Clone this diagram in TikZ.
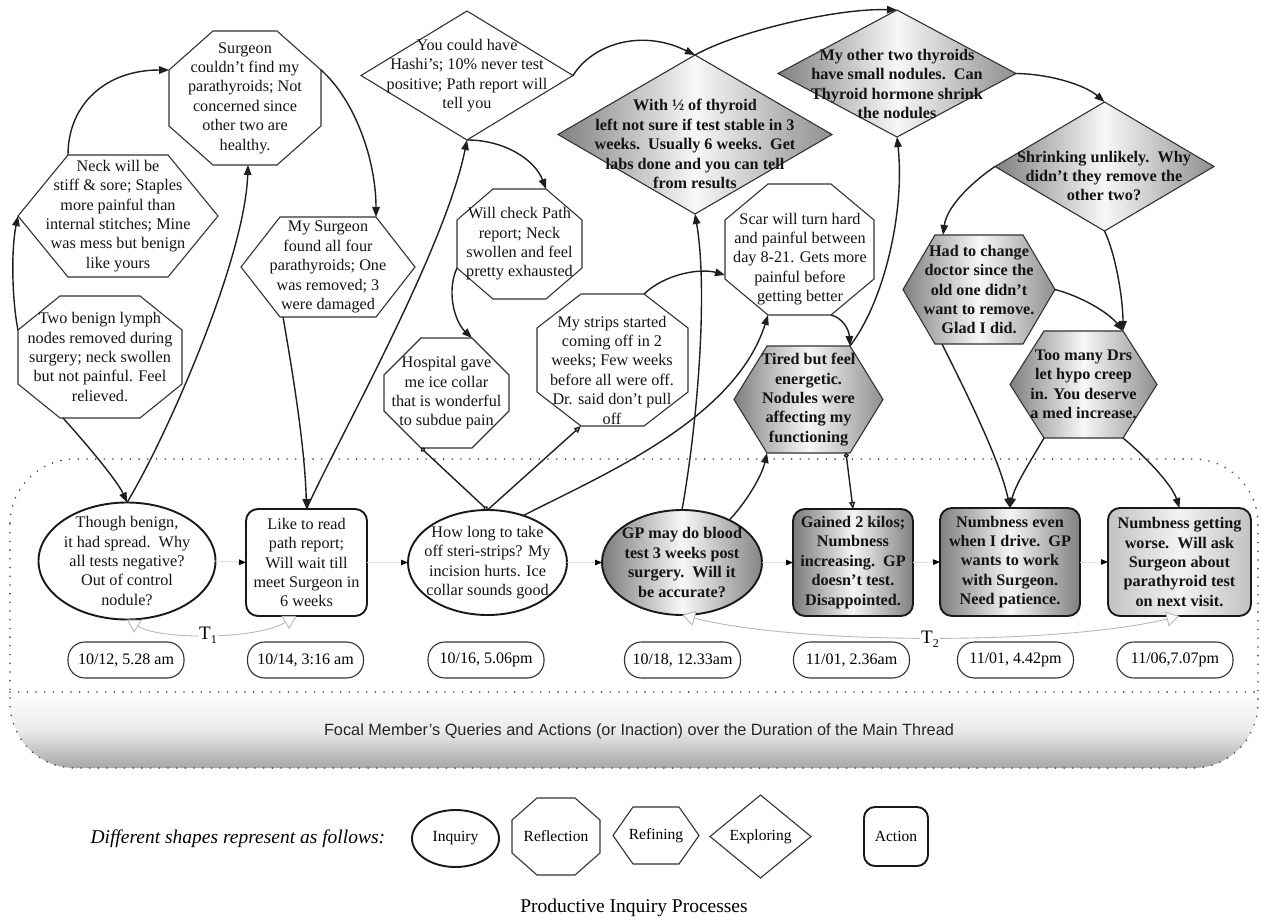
\documentclass[tikz,border=0pt]{standalone}
\usepackage{fontspec}
\setmainfont{Liberation Serif}
\newfontfamily\capsans{Liberation Sans}
\usetikzlibrary{arrows.meta,calc}
\pgfdeclarelayer{bg}
\pgfsetlayers{bg,main}

% outlines drawn behind the text of a node that only fixes the bounding box
\newcommand\octshape[4]{\begin{pgfonlayer}{bg}\path[#4] ([xshift=#2]#1.north west) -- ([xshift=-#2]#1.north east) -- ([yshift=-#3]#1.north east) -- ([yshift=#3]#1.south east) -- ([xshift=-#2]#1.south east) -- ([xshift=#2]#1.south west) -- ([yshift=#3]#1.south west) -- ([yshift=-#3]#1.north west) -- cycle;\end{pgfonlayer}}
\newcommand\hexshape[3]{\begin{pgfonlayer}{bg}\path[#3] ([xshift=#2]#1.north west) -- ([xshift=-#2]#1.north east) -- (#1.east) -- ([xshift=-#2]#1.south east) -- ([xshift=#2]#1.south west) -- (#1.west) -- cycle;\end{pgfonlayer}}
\newcommand\diashape[2]{\begin{pgfonlayer}{bg}\path[#2] (#1.north) -- (#1.east) -- (#1.south) -- (#1.west) -- cycle;\end{pgfonlayer}}
\newcommand\ovalshape[4]{\begin{pgfonlayer}{bg}\path[#4] (#1.center) ellipse [x radius=#2, y radius=#3];\end{pgfonlayer}}

\tikzset{
  box/.style 2 args={rectangle, minimum width=#1pt, minimum height=#2pt, inner sep=0pt, outer sep=0pt},
  txt/.style={align=center, font=\fontsize{16.2pt}{19.4pt}\selectfont, text=black!92},
  btxt/.style={align=center, font=\fontsize{16.2pt}{19.4pt}\selectfont\bfseries, text=black!92},
  rim/.style={draw=black!80, line width=1.1pt},
  paper/.style={rim, fill=white},
  steel/.style={rim, left color=black!50, right color=black!44, middle color=black!3},
  heavy/.style={draw=black!90, line width=1.9pt},
  pale/.style={left color=black!24, right color=black!24, middle color=black!5},
  link/.style={line width=1.4pt, draw=black!88, -{Triangle[length=10pt,width=7.5pt]}},
  flow/.style={line width=1pt, draw=black!13, -{Triangle[length=7pt,width=5.5pt,color=black]}},
  span/.style={line width=0.9pt, draw=black!28, {Triangle[length=13pt,width=15pt,fill=white]}-{Triangle[length=13pt,width=15pt,fill=white]}},
  stamp/.style={rectangle, rounded corners=17pt, draw=black!80, line width=1.1pt, minimum width=116pt, minimum height=36pt, inner sep=0pt, font=\fontsize{16pt}{19pt}\selectfont},
  dotline/.style={draw=black!70, line width=1.8pt, dash pattern=on 0pt off 8.7pt, line cap=round},
  keyfont/.style={font=\fontsize{15.5pt}{18pt}\selectfont},
}

\begin{document}
\begin{tikzpicture}[x=1pt, y=-1pt]
\useasboundingbox (0,0) rectangle (1262,920);

% main-thread band
\begin{pgfonlayer}{bg}
  \begin{scope}
    \clip[rounded corners=65pt] (10,459) rectangle (1258,768);
    \shade[top color=white, bottom color=black!35, middle color=black!8] (10,692) rectangle (1258,768);
  \end{scope}
  \draw[dotline, rounded corners=65pt] (10,459) rectangle (1258,768);
  \draw[dotline] (10,692) -- (1258,692);
\end{pgfonlayer}
\node[font=\capsans\fontsize{16.3pt}{19pt}\selectfont, anchor=base, text=black!85] (focal) at (639,735) {Focal Member’s Queries and Actions (or Inaction) over the Duration of the Main Thread};

% replies above the band
\node[box={152}{134}, txt] (S1) at (245,98) {Surgeon\\couldn’t find my\\parathyroids; Not\\concerned since\\other two are\\healthy.};
\octshape{S1}{44pt}{39pt}{paper}

\node[box={200}{122}, txt] (N) at (118,216) {Neck will be\\stiff \& sore; Staples\\more painful than\\internal stitches; Mine\\was mess but benign\\like yours};
\hexshape{N}{50pt}{paper}

\node[box={164}{122}, txt] (L) at (100,357) {Two benign lymph\\nodes removed during\\surgery; neck swollen\\but not painful. Feel\\relieved.};
\octshape{L}{42pt}{34pt}{paper}

\node[box={174}{100}, txt] (M) at (328,267) {My Surgeon\\found all four\\parathyroids; One\\was removed; 3\\were damaged};
\hexshape{M}{39pt}{paper}

\node[box={212}{129}, txt] (H) at (467,75.5) {You could have\\Hashi’s; 10\% never test\\positive; Path report will\\tell you};
\diashape{H}{paper}

\node[box={125}{110}, txt] (W) at (519.5,244) {Will check Path\\report; Neck\\swollen and feel\\pretty exhausted};
\octshape{W}{36pt}{31pt}{paper}

\node[box={274}{159}] (T) at (695,134.5) {};
\diashape{T}{steel}
\node[btxt] (Tt) at (695,144) {With ½ of thyroid\\left not sure if test stable in 3\\weeks.\ \ Usually 6 weeks.\ \ Get\\labs done and you can tell\\from results};

\node[box={238}{127}] (O) at (897,73.5) {};
\diashape{O}{steel}
\node[btxt] (Ot) at (897,84) {My other two thyroids\\have small nodules.\ \ Can\\Thyroid hormone shrink\\the nodules};

\node[box={219}{129}] (SU) at (1104.5,166.5) {};
\diashape{SU}{steel}
\node[btxt] (SUt) at (1104,176) {Shrinking unlikely.\ \ Why\\didn’t they remove the\\other two?};

\node[box={152}{109}, btxt] (HC) at (979,289.5) {Had to change\\doctor since the\\old one didn’t\\want to remove.\\Glad I did.};
\hexshape{HC}{32pt}{steel}

\node[box={147}{107}, btxt] (TM) at (1083.5,384.5) {Too many Drs\\let hypo creep\\in. You deserve\\a med increase.};
\hexshape{TM}{34pt}{steel}

\node[box={149}{131}] (SC) at (799.5,249.5) {};
\octshape{SC}{43pt}{36pt}{paper}
\node[txt] (SCt) at (800,259) {Scar will turn hard\\and painful between\\day 8-21. Gets more\\painful before\\getting better};

\node[box={149}{107}, btxt] (TI) at (808.5,399.5) {Tired but feel\\energetic.\\Nodules were\\affecting my\\functioning};
\hexshape{TI}{33pt}{steel}

\node[box={151}{132}] (ST) at (612.5,360) {};
\octshape{ST}{44pt}{34pt}{paper}
\node[txt] (STt) at (612,370) {My strips started\\coming off in 2\\weeks; Few weeks\\before all were off.\\Dr. said don’t pull\\off};

\node[box={125}{110}, txt] (HO) at (446.5,393) {Hospital gave\\me ice collar\\that is wonderful\\to subdue pain};
\octshape{HO}{37pt}{37pt}{paper}

% queries and actions of the main thread
\node[box={177}{117}, txt] (E1) at (127,561) {Though benign,\\it had spread.\ \ Why\\all tests negative?\\Out of control\\nodule?};
\ovalshape{E1}{88.5pt}{58.5pt}{heavy, fill=white}
\node[box={121}{107}, txt, heavy, rounded corners=12pt, fill=white] (R1) at (306.5,562.5) {Like to read\\path report;\\Will wait till\\meet Surgeon in\\6 weeks};
\node[box={159}{105}, txt] (E2) at (487.5,562.5) {How long to take\\off steri-strips? My\\incision hurts. Ice\\collar sounds good};
\ovalshape{E2}{79.5pt}{52.5pt}{heavy, fill=white}
\node[box={160}{105}, btxt] (E3) at (682,562.5) {GP may do blood\\test 3 weeks post\\surgery.\ \ Will it\\be accurate?};
\ovalshape{E3}{80pt}{52.5pt}{heavy, left color=black!52, right color=black!48, middle color=black!3}
\node[box={120}{107}, btxt, heavy, rounded corners=12pt, left color=black!52, right color=black!50, middle color=black!4] (R2) at (853,562.5) {Gained 2 kilos;\\Numbness\\increasing.\ \ GP\\doesn’t test.\\Disappointed.};
\node[box={140}{108}, btxt, heavy, rounded corners=12pt, left color=black!50, right color=black!50, middle color=black!4] (R3) at (1010,562) {Numbness even\\when I drive.\ \ GP\\wants to work\\with Surgeon.\\Need patience.};
\node[box={143}{108}, btxt, heavy, rounded corners=12pt, pale] (R4) at (1179.5,562) {Numbness getting\\worse.\ \ Will ask\\Surgeon about\\parathyroid test\\on next visit.};

% posting times
\node[stamp] (D1) at (126,660) {10/12, 5.28 am};
\node[stamp] (D2) at (305.5,660) {10/14, 3:16 am};
\node[stamp] (D3) at (486,660) {10/16, 5.06pm};
\node[stamp] (D4) at (682.5,660) {10/18, 12.33am};
\node[stamp] (D5) at (851.5,660) {11/01, 2.36am};
\node[stamp] (D6) at (1015.5,660) {11/01, 4.42pm};
\node[stamp] (D7) at (1175,660) {11/06,7.07pm};

% sequence of the main thread
\draw[flow] (E1.east) -- (R1.west);
\draw[flow] (R1.east) -- (E2.west);
\draw[flow] (E2.east) -- (E3.west);
\draw[flow] (E3.east) -- (R2.west);
\draw[flow] (R2.east) -- (R3.west);
\draw[flow] (R3.east) -- (R4.west);

% time spans
\draw[span] (E1.south) .. controls (160,640) and (255,640) .. ($(R1.south)+(-10,0)$);
\node[fill=white, inner sep=1pt, font=\fontsize{19pt}{20pt}\selectfont] (T1) at (208,635) {T\raisebox{-4pt}{\fontsize{12pt}{12pt}\selectfont 1}};
\draw[span] (E3.south) .. controls (800,645) and (1060,645) .. (R4.south);
\node[fill=white, inner sep=1pt, font=\fontsize{19pt}{20pt}\selectfont] (T2) at (930,639) {T\raisebox{-4pt}{\fontsize{12pt}{12pt}\selectfont 2}};

% reply connectors
\draw[link] ($(L.north west)+(0,34)$) .. controls (12,300) and (11,250) .. (N.west);
\draw[link] ($(N.north west)+(50,0)$) .. controls (68,105) and (105,70) .. ($(S1.north west)+(0,39)$);
\draw[link] ($(S1.north east)+(0,39)$) .. controls (355,100) and (376,160) .. ($(M.north east)+(-39,0)$);
\draw[link] ($(L.south west)+(45,0)$) .. controls (90,448) and (118,482) .. (E1.north);
\draw[link] (E1.north) .. controls (165,440) and (245,260) .. ($(S1.south)+(3,0)$);
\draw[link] ($(M.south west)+(42,0)$) .. controls (294,380) and (305,450) .. (R1.north);
\draw[link] (R1.north) .. controls (335,445) and (445,250) .. (H.south);
\draw[link] (H.south) .. controls (505,140) and (535,160) .. ($(W.north east)+(-36,0)$);
\draw[link] (H.east) .. controls (592,45) and (640,28) .. (T.north);
\draw[link] (T.north) .. controls (740,30) and (840,8) .. (O.north);
\draw[link] ($(W.south west)+(0,-31)$) .. controls (446,292) and (455,322) .. ($(HO.north east)+(-37,0)$);
\draw[line width=1.4pt, draw=black!88, {Circle[length=5pt,fill=white]}-{Circle[length=5pt,fill=white]}] ($(HO.south west)+(37,0)$) -- (E2.north);
\draw[line width=1.4pt, draw=black!88, -{Triangle[length=7pt,width=6pt,fill=white]}] (E2.north) -- ($(ST.south west)+(44,0)$);
\draw[link] ($(E2.center)+(36,-47)$) .. controls (600,476) and (735,420) .. ($(SC.south west)+(43,0)$);
\draw[link] ($(ST.north east)+(-44,0)$) .. controls (665,274) and (700,268) .. ($(SC.south west)+(0,-40)$);
\draw[link] (E3.north) .. controls (698,420) and (708,290) .. (T.south);
\draw[link] ($(E3.center)+(47,-42)$) .. controls (748,500) and (762,475) .. ($(TI.south west)+(33,0)$);
\draw[link] ($(SC.south east)+(-43,0)$) .. controls (843,318) and (849,330) .. ($(TI.north east)+(-33,0)$);
\draw[link] ($(TI.north east)+(-33,0)$) .. controls (885,300) and (905,210) .. (O.south);
\draw[line width=1.4pt, draw=black!88, {Circle[length=5pt,fill=white]}-{Triangle[length=7pt,width=6pt,fill=white]}] ($(TI.south east)+(-37,0)$) -- (R2.north);
\draw[link] (O.east) .. controls (1050,74) and (1085,85) .. (SU.north);
\draw[link] (SU.west) .. controls (975,180) and (947,205) .. ($(HC.north west)+(40,0)$);
\draw[link] (SU.south) .. controls (1116,255) and (1123,300) .. ($(TM.north east)+(-34,0)$);
\draw[link] (HC.east) .. controls (1080,296) and (1108,312) .. ($(TM.north east)+(-34,0)$);
\draw[link] ($(HC.south west)+(39,0)$) .. controls (965,390) and (1000,460) .. (R3.north);
\draw[link] ($(TM.south west)+(34,0)$) .. controls (1030,462) and (1015,485) .. (R3.north);
\draw[link] ($(TM.south east)+(-34,0)$) .. controls (1147,458) and (1172,485) .. (R4.north);

% key to the shapes
\node[anchor=west, font=\fontsize{19.5pt}{23pt}\selectfont\itshape] (key) at (87,839) {Different shapes represent as follows:};
\node[box={87}{57}, keyfont] (Lq) at (455.5,838.5) {Inquiry};
\ovalshape{Lq}{43.5pt}{28.5pt}{heavy, fill=white}
\node[box={88}{77}, keyfont] (Lr) at (556,836.5) {Reflection};
\octshape{Lr}{25pt}{22pt}{paper}
\node[box={86}{57}, keyfont] (Lf) at (656,835.5) {Refining};
\hexshape{Lf}{20pt}{paper}
\node[box={101}{83}, keyfont] (Le) at (760.5,836.5) {Exploring};
\diashape{Le}{paper}
\node[box={64}{59}, keyfont, heavy, rounded corners=11pt] (La) at (896,836.5) {Action};
\node[font=\fontsize{19.5pt}{23pt}\selectfont] (prod) at (634,908) {Productive Inquiry Processes};
\end{tikzpicture}
\end{document}
